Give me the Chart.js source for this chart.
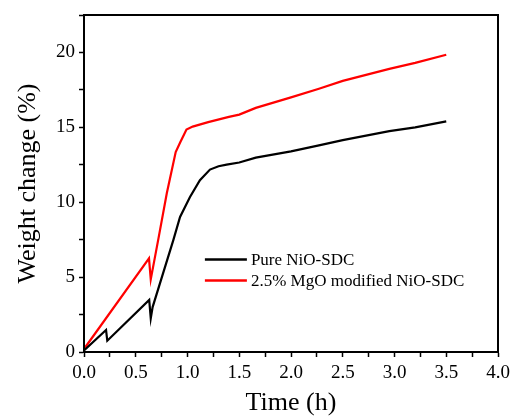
<!DOCTYPE html>
<html>
<head>
<meta charset="utf-8">
<script src="https://cdn.jsdelivr.net/npm/chart.js@4.4.1/dist/chart.umd.min.js"></script>
<style>
  html, body { margin: 0; padding: 0; background: #fff; }
  #wrap { width: 512px; height: 416px; }
</style>
</head>
<body>
<div id="wrap"><canvas id="myChart" width="512" height="416"></canvas></div>
<script>
// Pure NiO-SDC
const pureTime = [0, 0.213, 0.225, 0.63, 0.645, 0.663, 0.863, 0.928, 1.024, 1.12, 1.217, 1.3, 1.378, 1.5, 1.66, 2.0, 2.27, 2.5, 2.95, 3.2, 3.5];
const pureWeight = [0.1, 1.47, 0.75, 3.47, 2.25, 3.0, 7.47, 9.02, 10.35, 11.47, 12.18, 12.4, 12.51, 12.65, 12.98, 13.4, 13.8, 14.15, 14.75, 15.0, 15.4];
// 2.5% MgO modified NiO-SDC
const mgoTime = [0, 0.628, 0.645, 0.72, 0.80, 0.886, 0.93, 0.99, 1.05, 1.2, 1.4, 1.5, 1.66, 2.0, 2.27, 2.5, 2.95, 3.2, 3.5];
const mgoWeight = [0.2, 6.25, 4.85, 7.6, 10.6, 13.35, 14.0, 14.85, 15.05, 15.35, 15.7, 15.85, 16.3, 17.0, 17.58, 18.1, 18.9, 19.3, 19.85];

const seriesNames = ['Pure NiO-SDC', '2.5% MgO modified NiO-SDC'];
const seriesColors = ['#000000', '#ff0000'];

const xMin = 0, xMax = 4.0, xStep = 0.25;
const yMin = 0, yMax = 22.5, yStep = 2.5;

function toPoints(xs, ys) {
	return xs.map((x, i) => ({ x: x, y: ys[i] }));
}

const serif = "'Liberation Serif', 'Times New Roman', serif";

// frame + legend drawn on top of the chart area
const framePlugin = {
	id: 'frame',
	afterDraw(chart) {
		const ctx = chart.ctx;
		const a = chart.chartArea;
		ctx.save();
		ctx.strokeStyle = '#000';
		ctx.lineWidth = 2;
		ctx.strokeRect(a.left, a.top, a.right - a.left, a.bottom - a.top);

		const lx = a.left + (a.right - a.left) * 0.292;
		const rows = [259.5, 280.5];
		ctx.font = '17px ' + serif;
		ctx.textBaseline = 'middle';
		ctx.fillStyle = '#000';
		rows.forEach((y, i) => {
			ctx.strokeStyle = seriesColors[i];
			ctx.lineWidth = 2.5;
			ctx.beginPath();
			ctx.moveTo(lx, y);
			ctx.lineTo(lx + 42, y);
			ctx.stroke();
			ctx.fillText(seriesNames[i], lx + 46, y + 1);
		});
		ctx.restore();
	}
};

const myChart = new Chart(document.getElementById('myChart').getContext('2d'), {
	type: 'scatter',
	data: {
		datasets: [{
			label: seriesNames[0],
			data: toPoints(pureTime, pureWeight),
			showLine: true,
			borderColor: seriesColors[0],
			borderWidth: 2.2,
			pointRadius: 0,
			tension: 0
		}, {
			label: seriesNames[1],
			data: toPoints(mgoTime, mgoWeight),
			showLine: true,
			borderColor: seriesColors[1],
			borderWidth: 2.2,
			pointRadius: 0,
			tension: 0
		}]
	},
	options: {
		responsive: false,
		animation: false,
		layout: { padding: { left: 0, right: 14, top: 15, bottom: 0 } },
		plugins: {
			legend: { display: false },
			tooltip: { enabled: false }
		},
		scales: {
			x: {
				type: 'linear',
				min: xMin,
				max: xMax,
				afterFit: (s) => { s.height = 64; s.paddingRight = 0; s.paddingLeft = 0; },
				border: { display: true, color: '#000', width: 2 },
				grid: { drawOnChartArea: false, tickLength: 5, color: '#000', tickWidth: 1.5 },
				ticks: {
					stepSize: xStep,
					padding: 5,
					color: '#000',
					font: { family: serif, size: 19 },
					maxRotation: 0,
					autoSkip: false,
					callback: (v) => (Math.abs(v / 0.5 - Math.round(v / 0.5)) < 1e-6 ? v.toFixed(1) : '')
				},
				title: {
					display: true,
					text: 'Time (h)',
					color: '#000',
					font: { family: serif, size: 26, lineHeight: 1 },
					padding: { top: 0, bottom: 0 }
				}
			},
			y: {
				type: 'linear',
				min: yMin,
				max: yMax,
				afterFit: (s) => { s.width = 84; s.paddingTop = 0; s.paddingBottom = 0; },
				border: { display: true, color: '#000', width: 2 },
				grid: { drawOnChartArea: false, tickLength: 5, color: '#000', tickWidth: 1.5 },
				ticks: {
					stepSize: yStep,
					padding: 4,
					color: '#000',
					font: { family: serif, size: 19 },
					autoSkip: false,
					callback: (v) => (v % 5 === 0 ? String(v) : '')
				},
				title: {
					display: true,
					text: 'Weight change (%)',
					color: '#000',
					font: { family: serif, size: 26, lineHeight: 1 },
					padding: { top: 15, bottom: 0 }
				}
			}
		}
	},
	plugins: [framePlugin]
});
</script>
</body>
</html>
